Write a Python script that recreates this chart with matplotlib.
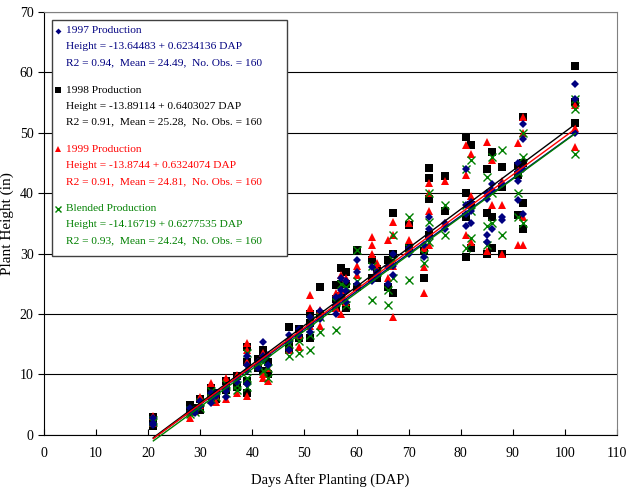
import matplotlib
matplotlib.use("Agg")
import matplotlib.pyplot as plt
from matplotlib.patches import Rectangle
import numpy as np

plt.rcParams["font.family"] = ["Liberation Serif", "DejaVu Serif"]

# heights (in), grouped by days after planting
H_1997 = {
    21: [2.0, 2.8, 1.6], 28: [3.8, 4.5], 29: [4.2, 3.6], 30: [4.8, 5.6],
    32: [6.0, 7.0, 5.2], 33: [6.5, 7.0], 35: [7.2, 8.0, 6.2], 37: [8.8, 9.3],
    39: [10.5, 11.5, 13.0, 8.5], 41: [12.0, 11.0], 42: [15.4, 12.5, 13.0],
    43: [13.2, 11.5], 47: [15.5, 16.5, 14.0], 49: [16.5, 17.5],
    51: [18.0, 17.0, 19.5], 53: [19.2, 20.5], 56: [21.5, 22.8, 20.0],
    57: [23.0, 24.0, 26.0], 58: [23.8, 22.0, 25.5], 60: [25.0, 29.0, 27.0],
    63: [27.8, 25.5], 64: [26.5, 27.0], 66: [27.8, 25.0], 67: [28.0, 30.0, 26.5],
    70: [30.0, 31.0], 73: [31.5, 29.5], 74: [32.5, 34.0, 36.0], 77: [34.0, 35.0],
    81: [36.5, 44.0, 38.0, 34.5], 82: [37.0, 38.5, 35.0],
    85: [39.0, 40.0, 33.0, 32.0], 86: [40.5, 41.5, 34.0], 88: [41.5, 36.0, 35.5],
    91: [43.5, 45.0, 38.9, 42.0], 92: [44.0, 49.0, 51.5, 36.5],
    102: [50.0, 58.0, 55.5],
}
H_1998 = {
    21: [1.5, 3.0, 2.5], 28: [5.0, 4.0], 29: [4.5], 30: [6.0, 4.2],
    32: [7.8, 6.5], 33: [7.0, 6.0], 35: [9.0, 7.5], 37: [9.8, 8.0],
    39: [14.5, 12.0, 9.0, 7.0], 41: [12.5, 11.0], 42: [14.0, 13.0, 10.5],
    43: [12.0, 10.0], 47: [17.8, 15.0, 14.0], 49: [17.5, 16.0],
    51: [20.0, 18.5, 16.0], 53: [24.5, 20.0], 56: [24.8, 22.5, 21.0],
    57: [27.6, 25.0, 23.0], 58: [27.0, 25.0, 21.0], 60: [30.6, 24.5],
    63: [26.0, 29.0], 64: [27.5, 26.0], 66: [29.0, 24.5], 67: [36.7, 30.0, 23.5],
    70: [34.8, 31.0], 73: [26.0, 30.5], 74: [44.2, 42.5, 39.0, 33.0],
    77: [42.9, 37.0], 81: [49.3, 40.0, 36.0, 29.5], 82: [48.0, 38.0, 31.0],
    85: [44.0, 36.7, 30.0], 86: [46.8, 36.0, 31.0], 88: [44.4, 41.0, 30.0],
    91: [44.5, 36.4, 43.0], 92: [52.6, 45.0, 38.4, 34.0],
    102: [61.0, 51.6, 55.0],
}
H_1999 = {
    21: [2.0, 3.2], 28: [2.8, 3.8], 29: [4.0], 30: [5.0, 6.3],
    32: [8.6, 7.0], 33: [6.5, 5.5], 35: [9.4, 6.0], 37: [9.9, 7.0],
    39: [15.2, 14.0, 12.0, 6.5], 41: [12.0], 42: [13.5, 9.5, 10.0],
    43: [11.0, 9.0], 47: [16.0, 14.0], 49: [16.5, 14.5],
    51: [23.2, 21.0, 18.0], 53: [20.7, 18.0], 56: [23.5, 21.0],
    57: [26.5, 24.0, 20.0], 58: [26.0, 22.0], 60: [26.5, 28.0],
    63: [32.8, 30.0, 31.5], 64: [27.5, 28.5], 66: [32.3, 26.0],
    67: [35.3, 33.0, 28.0, 19.5], 70: [32.3, 35.0], 73: [27.8, 23.5, 31.0],
    74: [41.7, 40.0, 37.0, 31.5], 77: [42.0, 35.0], 81: [48.0, 43.0, 33.0],
    82: [46.5, 39.5, 32.0], 85: [48.5, 40.0, 30.5], 86: [45.5, 38.0],
    88: [38.0, 42.0, 30.0], 91: [48.3, 44.0, 31.5],
    92: [52.6, 50.0, 36.0, 31.5], 102: [54.6, 50.8, 47.7],
}
H_BLEND = {
    21: [2.2, 2.5], 28: [3.5, 4.2], 29: [3.8], 30: [4.5, 5.5],
    32: [6.0, 7.2], 33: [6.2], 35: [7.0, 8.5], 37: [8.2, 7.5],
    39: [13.5, 11.0, 9.5, 8.0], 41: [11.5], 42: [12.0, 10.5],
    43: [11.0, 9.5], 47: [15.0, 13.0], 49: [15.5, 13.5],
    51: [19.0, 16.5, 14.0], 53: [19.5, 17.0], 56: [22.0, 17.4],
    57: [25.0, 22.5], 58: [24.5, 21.5], 60: [30.6, 25.5],
    63: [22.4, 28.0], 64: [27.0], 66: [24.0, 21.5], 67: [33.0, 29.0, 26.0],
    70: [36.0, 25.7, 31.0], 73: [30.0, 28.5], 74: [40.0, 35.3, 32.0],
    77: [38.0, 33.0], 81: [44.0, 38.0, 31.0], 82: [45.5, 37.0, 32.5],
    85: [42.7, 34.5, 31.5], 86: [46.0, 40.0, 35.0], 88: [47.2, 33.0],
    91: [43.5, 40.0, 36.0], 92: [50.0, 46.0, 35.0],
    102: [55.5, 54.0, 46.4],
}

NAMES = ["1997 Production", "1998 Production", "1999 Production", "Blended Production"]
INTERCEPTS = [-13.64483, -13.89114, -13.8744, -14.16719]
SLOPES = [0.6234136, 0.6403027, 0.6324074, 0.6277535]
INTERCEPT_TXT = ["-13.64483", "-13.89114", "-13.8744", "-14.16719"]
SLOPE_TXT = ["0.6234136", "0.6403027", "0.6324074", "0.6277535"]
R2 = ["0.94", "0.91", "0.91", "0.93"]
MEANS = ["24.49", "25.28", "24.81", "24.24"]
N_OBS = [160, 160, 160, 160]
LINE_DAP = [21, 102]

series = [H_1997, H_1998, H_1999, H_BLEND]
colors = ["#000080", "#000000", "#ff0000", "#008000"]
markers = ["D", "s", "^", "x"]
msizes = [4.5, 5.5, 6, 5.5]
zorders = [6, 3, 4, 5]

fig = plt.figure(figsize=(6.28, 4.92), dpi=100)
ax = fig.add_axes([0.070, 0.116, 0.9125, 0.860])

for h, c, m, ms, z in zip(series, colors, markers, msizes, zorders):
    xs = [d for d, vals in h.items() for _ in vals]
    ys = [v for vals in h.values() for v in vals]
    if m == "x":
        ax.plot(xs, ys, ls="none", marker=m, color=c, ms=ms, mew=1.0, zorder=z)
    else:
        ax.plot(xs, ys, ls="none", marker=m, color=c, ms=ms, mew=0, zorder=z)

xl = np.array(LINE_DAP, dtype=float)
for b0, b1, c in zip(INTERCEPTS, SLOPES, colors):
    ax.plot(xl, b0 + b1 * xl, color=c, lw=1.0, zorder=7, clip_on=False)

ax.set_xlim(0, 110)
ax.set_ylim(0, 70)
ax.set_xticks(range(0, 111, 10))
ax.set_yticks(range(0, 71, 10))
ax.tick_params(axis="x", direction="in", length=4, labelsize=10, pad=9)
ax.tick_params(axis="y", direction="out", length=4, labelsize=10)
ax.yaxis.grid(True, color="black", lw=0.8)
ax.set_axisbelow(True)
for s in ["top", "right"]:
    ax.spines[s].set_color("#808080")
ax.set_xlabel("Days After Planting (DAP)", fontsize=10.5, labelpad=9)
ax.set_ylabel("Plant Height (in)", fontsize=11, labelpad=4)

# legend box with regression text
ax.add_patch(Rectangle((0.014, 0.423), 0.41, 0.558, transform=ax.transAxes,
                       facecolor="white", edgecolor="#404040", lw=1.0, zorder=10))
group_tops = [0.955, 0.815, 0.675, 0.535]
for i in range(4):
    y0 = group_tops[i]
    ax.plot([0.024], [y0], transform=ax.transAxes, ls="none", marker=markers[i],
            color=colors[i], ms=msizes[i] - 1.5, mew=1.0 if markers[i] == "x" else 0,
            zorder=11, clip_on=False)
    lines = [
        NAMES[i],
        f"Height = {INTERCEPT_TXT[i]} + {SLOPE_TXT[i]} DAP",
        f"R2 = {R2[i]},  Mean = {MEANS[i]},  No. Obs. = {N_OBS[i]}",
    ]
    for k, t in enumerate(lines):
        ax.text(0.038, y0 - k * 0.038, t, transform=ax.transAxes, color=colors[i],
                fontsize=8.2, va="center", ha="left", zorder=11)

fig.savefig("out.png", dpi=100)
